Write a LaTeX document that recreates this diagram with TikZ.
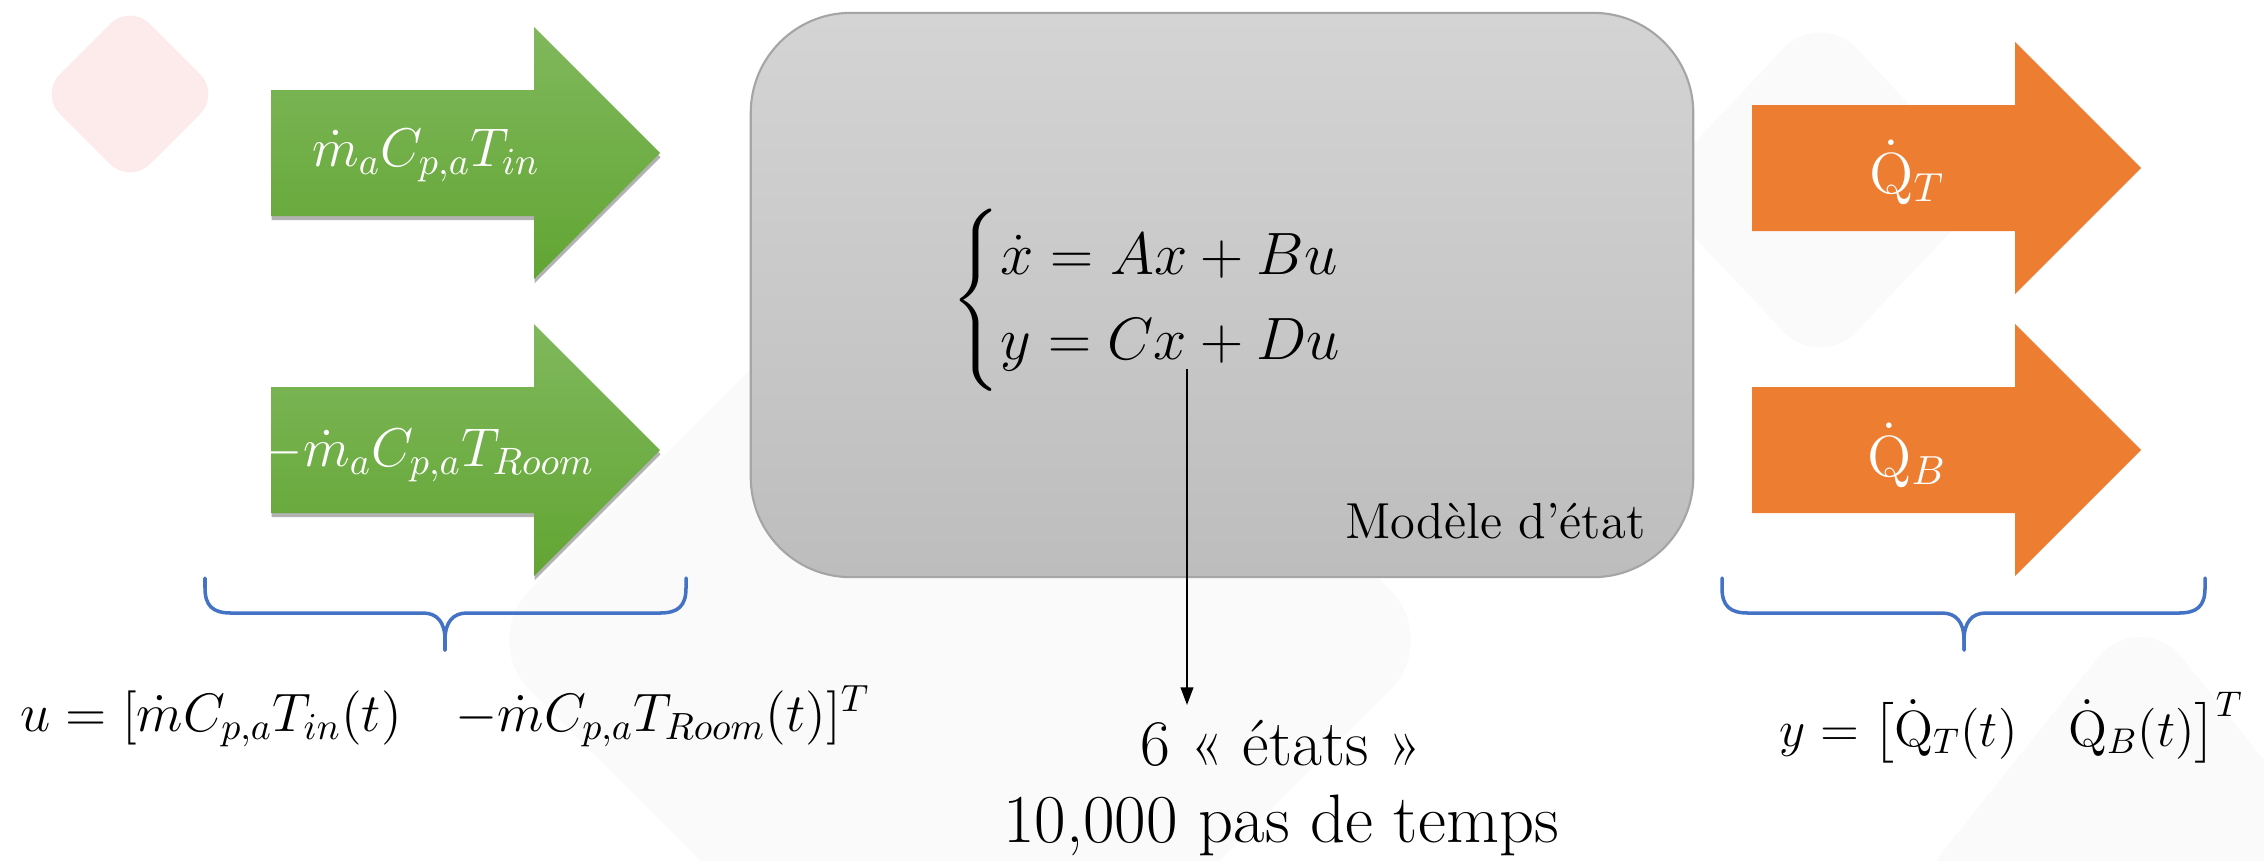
\RequirePackage{fix-cm}
\documentclass[tikz,border=0pt]{standalone}
\usepackage{amsmath}
\usetikzlibrary{arrows.meta,shadows}
\definecolor{arrowgreentop}{HTML}{80B85C}
\definecolor{arrowgreenbot}{HTML}{62A533}
\definecolor{arroworange}{HTML}{ED7D31}
\definecolor{boxtop}{HTML}{D4D4D4}
\definecolor{boxbot}{HTML}{BDBDBD}
\definecolor{boxline}{HTML}{A5A5A5}
\definecolor{bracecol}{HTML}{4472C4}
\definecolor{faintgray}{HTML}{FAFAFA}
\definecolor{faintpink}{HTML}{FDEBEB}
\newcommand{\setfs}[2]{\fontsize{#1}{#2}\selectfont}
% fat arrow: left x, centre y
\newcommand{\fatarrowpath}[2]{(#1,#2-63) -- (#1+263,#2-63) -- (#1+263,#2-126) -- (#1+389,#2) -- (#1+263,#2+126) -- (#1+263,#2+63) -- (#1,#2+63) -- cycle}
% brace: left end x, tip x, right end x
\newcommand{\drawbrace}[3]{%
  \draw[bracestyle] (#1,578) -- (#1,588) .. controls (#1,606) and (#1+8,613) .. (#1+26,613) -- (#2-22,613) .. controls (#2-8,613) and (#2,622) .. (#2,640) -- (#2,650);
  \draw[bracestyle] (#3,578) -- (#3,588) .. controls (#3,606) and (#3-8,613) .. (#3-26,613) -- (#2+22,613) .. controls (#2+8,613) and (#2,622) .. (#2,640) -- (#2,650);}
\tikzset{
  greenarrow/.style={top color=arrowgreentop,bottom color=arrowgreenbot,
    drop shadow={shadow xshift=0.2pt,shadow yshift=-1.2pt,opacity=0.3,fill=black}},
  orangearrow/.style={fill=arroworange},
  arrowlabel/.style={text=white,inner sep=0pt},
  modelbox/.style={rounded corners=1cm,top color=boxtop,bottom color=boxbot,draw=boxline,line width=0.6pt},
  bracestyle/.style={draw=bracecol,line width=1pt,line cap=round},
  connector/.style={-{Triangle[length=5pt,width=3.6pt]},line width=0.5pt},
  plaintext/.style={text=black,inner sep=0pt}
}
\begin{document}
\begin{tikzpicture}[x=0.01cm,y=-0.01cm]
\useasboundingbox[fill=white] (0,0) rectangle (2264,860);
\begin{scope}
\clip (0,0) rectangle (2264,860);
\fill[faintpink,rounded corners=8pt] (40,94) -- (130,4) -- (220,94) -- (130,184) -- cycle;
\fill[faintgray,rounded corners=20pt] (480,640) -- (960,160) -- (1440,640) -- (960,1120) -- cycle;
\fill[faintgray,rounded corners=15pt] (1650,190) -- (1820,10) -- (1990,190) -- (1820,370) -- cycle;
\fill[faintgray,rounded corners=20pt] (2140,605) -- (2380,905) -- (2140,1205) -- (1900,905) -- cycle;
\end{scope}

% input arrows
\path[greenarrow] \fatarrowpath{271}{153};
\path[greenarrow] \fatarrowpath{271}{450};
% output arrows
\path[orangearrow] \fatarrowpath{1752}{168};
\path[orangearrow] \fatarrowpath{1752}{450};

% state-space model box
\node[modelbox,minimum width=9.42cm,minimum height=5.64cm] (model) at (1222,295) {};

\node[arrowlabel,anchor=base] (in1) at (426,166) {\setfs{15.5}{18}$\dot m_a C_{p,a} T_{in}$};
\node[arrowlabel,anchor=base west] (in2) at (260,466) {\setfs{15.5}{18}$-\dot m_a C_{p,a} T_{Room}$};
\node[arrowlabel,anchor=base] (out1) at (1907,193) {\setfs{16.5}{19}$\dot{\mathrm{Q}}_T$};
\node[arrowlabel,anchor=base] (out2) at (1907,476) {\setfs{16.5}{19}$\dot{\mathrm{Q}}_B$};

\node[plaintext] (eq) at (1178,300) {\setfs{17}{20}$\begin{cases}\dot x = Ax + Bu\\ y = Cx + Du\end{cases}$};
\node[plaintext,anchor=base east] (mlabel) at (1646,538) {\setfs{14.4}{17}Modèle d’état};

\coordinate (astart) at (1187,369);
\node[plaintext,anchor=base,inner sep=4pt] (states1) at (1281,765) {\setfs{18.5}{22}6~«~états~»};
\node[plaintext,anchor=base] (states2) at (1281,842) {\setfs{19.5}{23}10,000 pas de temps};
\draw[connector] (astart) -- (astart |- states1.north);

% braces
\drawbrace{205}{445}{686}
\drawbrace{1722}{1964}{2205}

\node[plaintext,anchor=base west] (uvec) at (20,731) {\setfs{15.4}{18}$u = [\dot m C_{p,a} T_{in}(t) \quad {-\dot m C_{p,a} T_{Room}(t)}]^T$};
\node[plaintext,anchor=base west] (yvec) at (1779,746) {\setfs{14.5}{17}$y = \bigl[\dot{\mathrm{Q}}_T(t) \quad \dot{\mathrm{Q}}_B(t)\bigr]^T$};
\end{tikzpicture}
\end{document}
